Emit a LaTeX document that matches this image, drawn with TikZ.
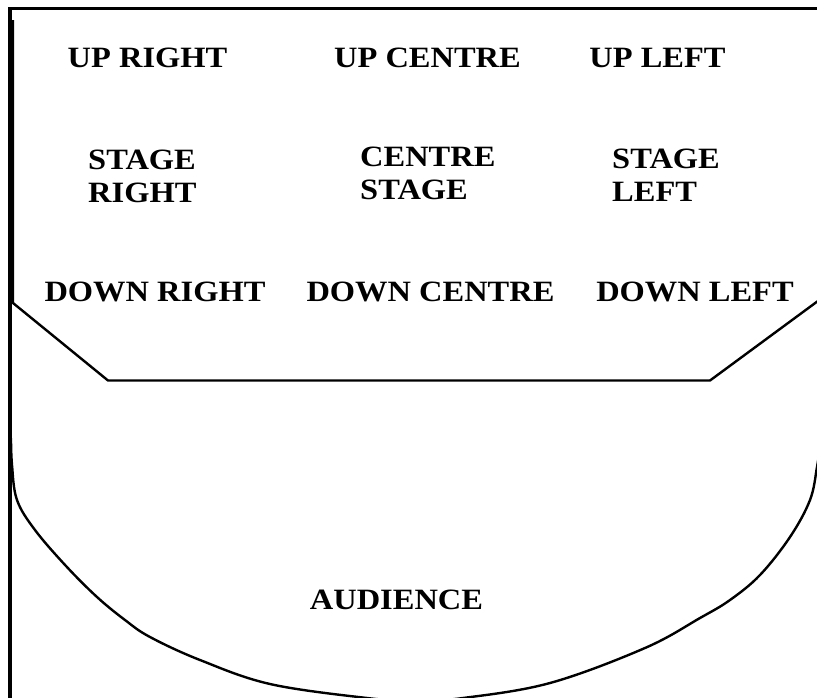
\documentclass[tikz,border=0pt]{standalone}
\usepackage{fontspec}
\setmainfont{Liberation Serif}
\begin{document}
\begin{tikzpicture}[x=1pt,y=-1pt,
  lbl/.style={font=\bfseries\fontsize{29.5}{33}\selectfont, xscale=1.1, transform shape, align=left, inner sep=0pt},
  border/.style={line width=3.2pt},
  stageline/.style={line width=2.4pt, line join=miter},
  arcline/.style={line width=2.4pt}]
\useasboundingbox (0,0) rectangle (817,697);
\begin{scope}
\clip (0,0) rectangle (817,697);
% outer border (top and left)
\draw[border] (817,8.5) -- (10,8.5) -- (10,700);
% stage outline
\coordinate (sTop) at (13,20);
\coordinate (sL) at (13,303);
\coordinate (sBL) at (108,380.5);
\coordinate (sBR) at (710,380.5);
\coordinate (sR) at (822,298);
\draw[stageline] (sTop) -- (sL) -- (sBL) -- (sBR) -- (sR);
% audience curve
\draw[arcline] plot[smooth, tension=0.6] coordinates {(11,438) (12,465) (17,500) (35,530) (66,566) (97,597) (125,620) (150,637) (200,660) (270,684) (367,698) (415,701) (463,698) (550,683) (645,648) (700,618) (730,600) (760,575) (790,537) (810,500) (817,467) (821,440)};
\end{scope}
% labels
\node[lbl] (ur) at (147.5,57.5) {UP RIGHT};
\node[lbl] (uc) at (427.5,57.5) {UP CENTRE};
\node[lbl] (ul) at (657.5,57.5) {UP LEFT};
\node[lbl, anchor=west] (sr) at (88,176.5) {STAGE\\RIGHT};
\node[lbl, anchor=west] (cs) at (360,173) {CENTRE\\STAGE};
\node[lbl, anchor=west] (sl) at (612,175) {STAGE\\LEFT};
\node[lbl] (dr) at (155,292) {DOWN RIGHT};
\node[lbl] (dc) at (430.5,292) {DOWN CENTRE};
\node[lbl] (dl) at (695,292) {DOWN LEFT};
\node[lbl] (aud) at (396.5,600) {AUDIENCE};
\end{tikzpicture}
\end{document}
